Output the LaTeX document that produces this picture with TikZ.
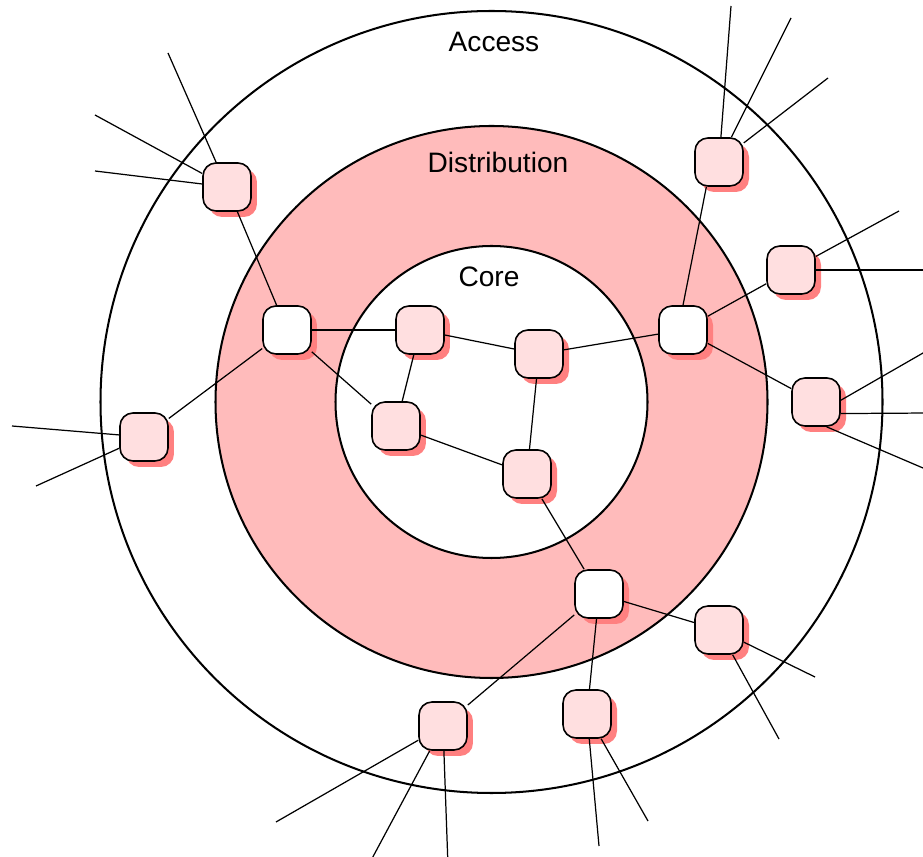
\documentclass[tikz,border=0pt]{standalone}
\usepackage{fontspec}
\setmainfont{Liberation Sans}
\usetikzlibrary{shadows}
\definecolor{ringred}{RGB}{255,187,187}
\definecolor{nodepink}{RGB}{255,223,224}
\definecolor{shadowred}{RGB}{255,128,128}
\tikzset{
  router/.style={draw, line width=0.9pt, rounded corners=0.26cm, minimum size=0.96cm, inner sep=0pt,
    general shadow={fill=shadowred, shadow xshift=0.12cm, shadow yshift=-0.12cm}},
  pinkbox/.style={router, fill=nodepink},
  whitebox/.style={router, fill=white},
  link/.style={line width=0.7pt},
  ring/.style={line width=1.15pt}
}

\begin{document}
\begin{tikzpicture}[x=0.02cm, y=-0.02cm, font=\fontsize{16}{19}\selectfont]
    \useasboundingbox (0,0) rectangle (923,857);
    \clip (0,0) rectangle (923,857);
    % the three layers
    \draw[ring, fill=white] (491.5,402) circle[radius=391];
    \draw[ring, fill=ringred] (491.5,402) circle[radius=276];
    \draw[ring, fill=white] (491.5,402) circle[radius=156];
    \node (access) at (494,42) {Access};
    \node (distribution) at (498,162) {Distribution};
    \node (core) at (489,277) {Core};
    % core switches
    \node[pinkbox] (c1) at (420,330) {};
    \node[pinkbox] (c2) at (396,426) {};
    \node[pinkbox] (c3) at (539,354) {};
    \node[pinkbox] (c4) at (527,474) {};
    % distribution switches
    \node[whitebox] (d1) at (287,330) {};
    \node[whitebox] (d2) at (683,330) {};
    \node[whitebox] (d3) at (599,594) {};
    % access switches
    \node[pinkbox] (a1) at (227,187) {};
    \node[pinkbox] (a2) at (144,437) {};
    \node[pinkbox] (a3) at (719,162) {};
    \node[pinkbox] (a4) at (791,270) {};
    \node[pinkbox] (a5) at (816,402) {};
    \node[pinkbox] (a6) at (719,630) {};
    \node[pinkbox] (a7) at (587,714) {};
    \node[pinkbox] (a8) at (443,726) {};
    % links
    \draw[link] (c1) -- (c3);
    \draw[link] (c1) -- (c2);
    \draw[link] (c3) -- (c4);
    \draw[link] (c2) -- (c4);
    \draw[link] (d1) -- (c1);
    \draw[link] (d1) -- (c2);
    \draw[link] (d2) -- (c3);
    \draw[link] (d3) -- (c4);
    \draw[link] (d2.north) -- (a3.-117);
    \foreach \d/\a in {d1/a1, d1/a2, d2/a4, d2/a5, d3/a6, d3/a7, d3/a8}
      \draw[link] (\d) -- (\a);
    % user lines
    \foreach \a/\i/\x/\y in {a1/1/168/53, a1/2/95/115, a1/3/95/171,
        a2/1/12/426, a2/2/36/486,
        a3/1/731/6, a3/2/791/18, a3/3/828/78,
        a4/1/899/211, a4/2/930/270,
        a6/1/815/677, a6/2/779/739,
        a7/1/599/846, a7/2/648/821,
        a8/1/276/822, a8/2/368/866, a8/3/448/866} {
      \coordinate (\a-\i) at (\x,\y);
      \draw[link] (\a) -- (\a-\i);
    }
    \coordinate (a5-1) at (930,349);
    \coordinate (a5-2) at (930,413);
    \coordinate (a5-3) at (930,471);
    \draw[link] (a5.4) -- (a5-1);
    \draw[link] (a5.-25) -- (a5-2);
    \draw[link] (a5.-67) -- (a5-3);
  \end{tikzpicture}
\end{document}
